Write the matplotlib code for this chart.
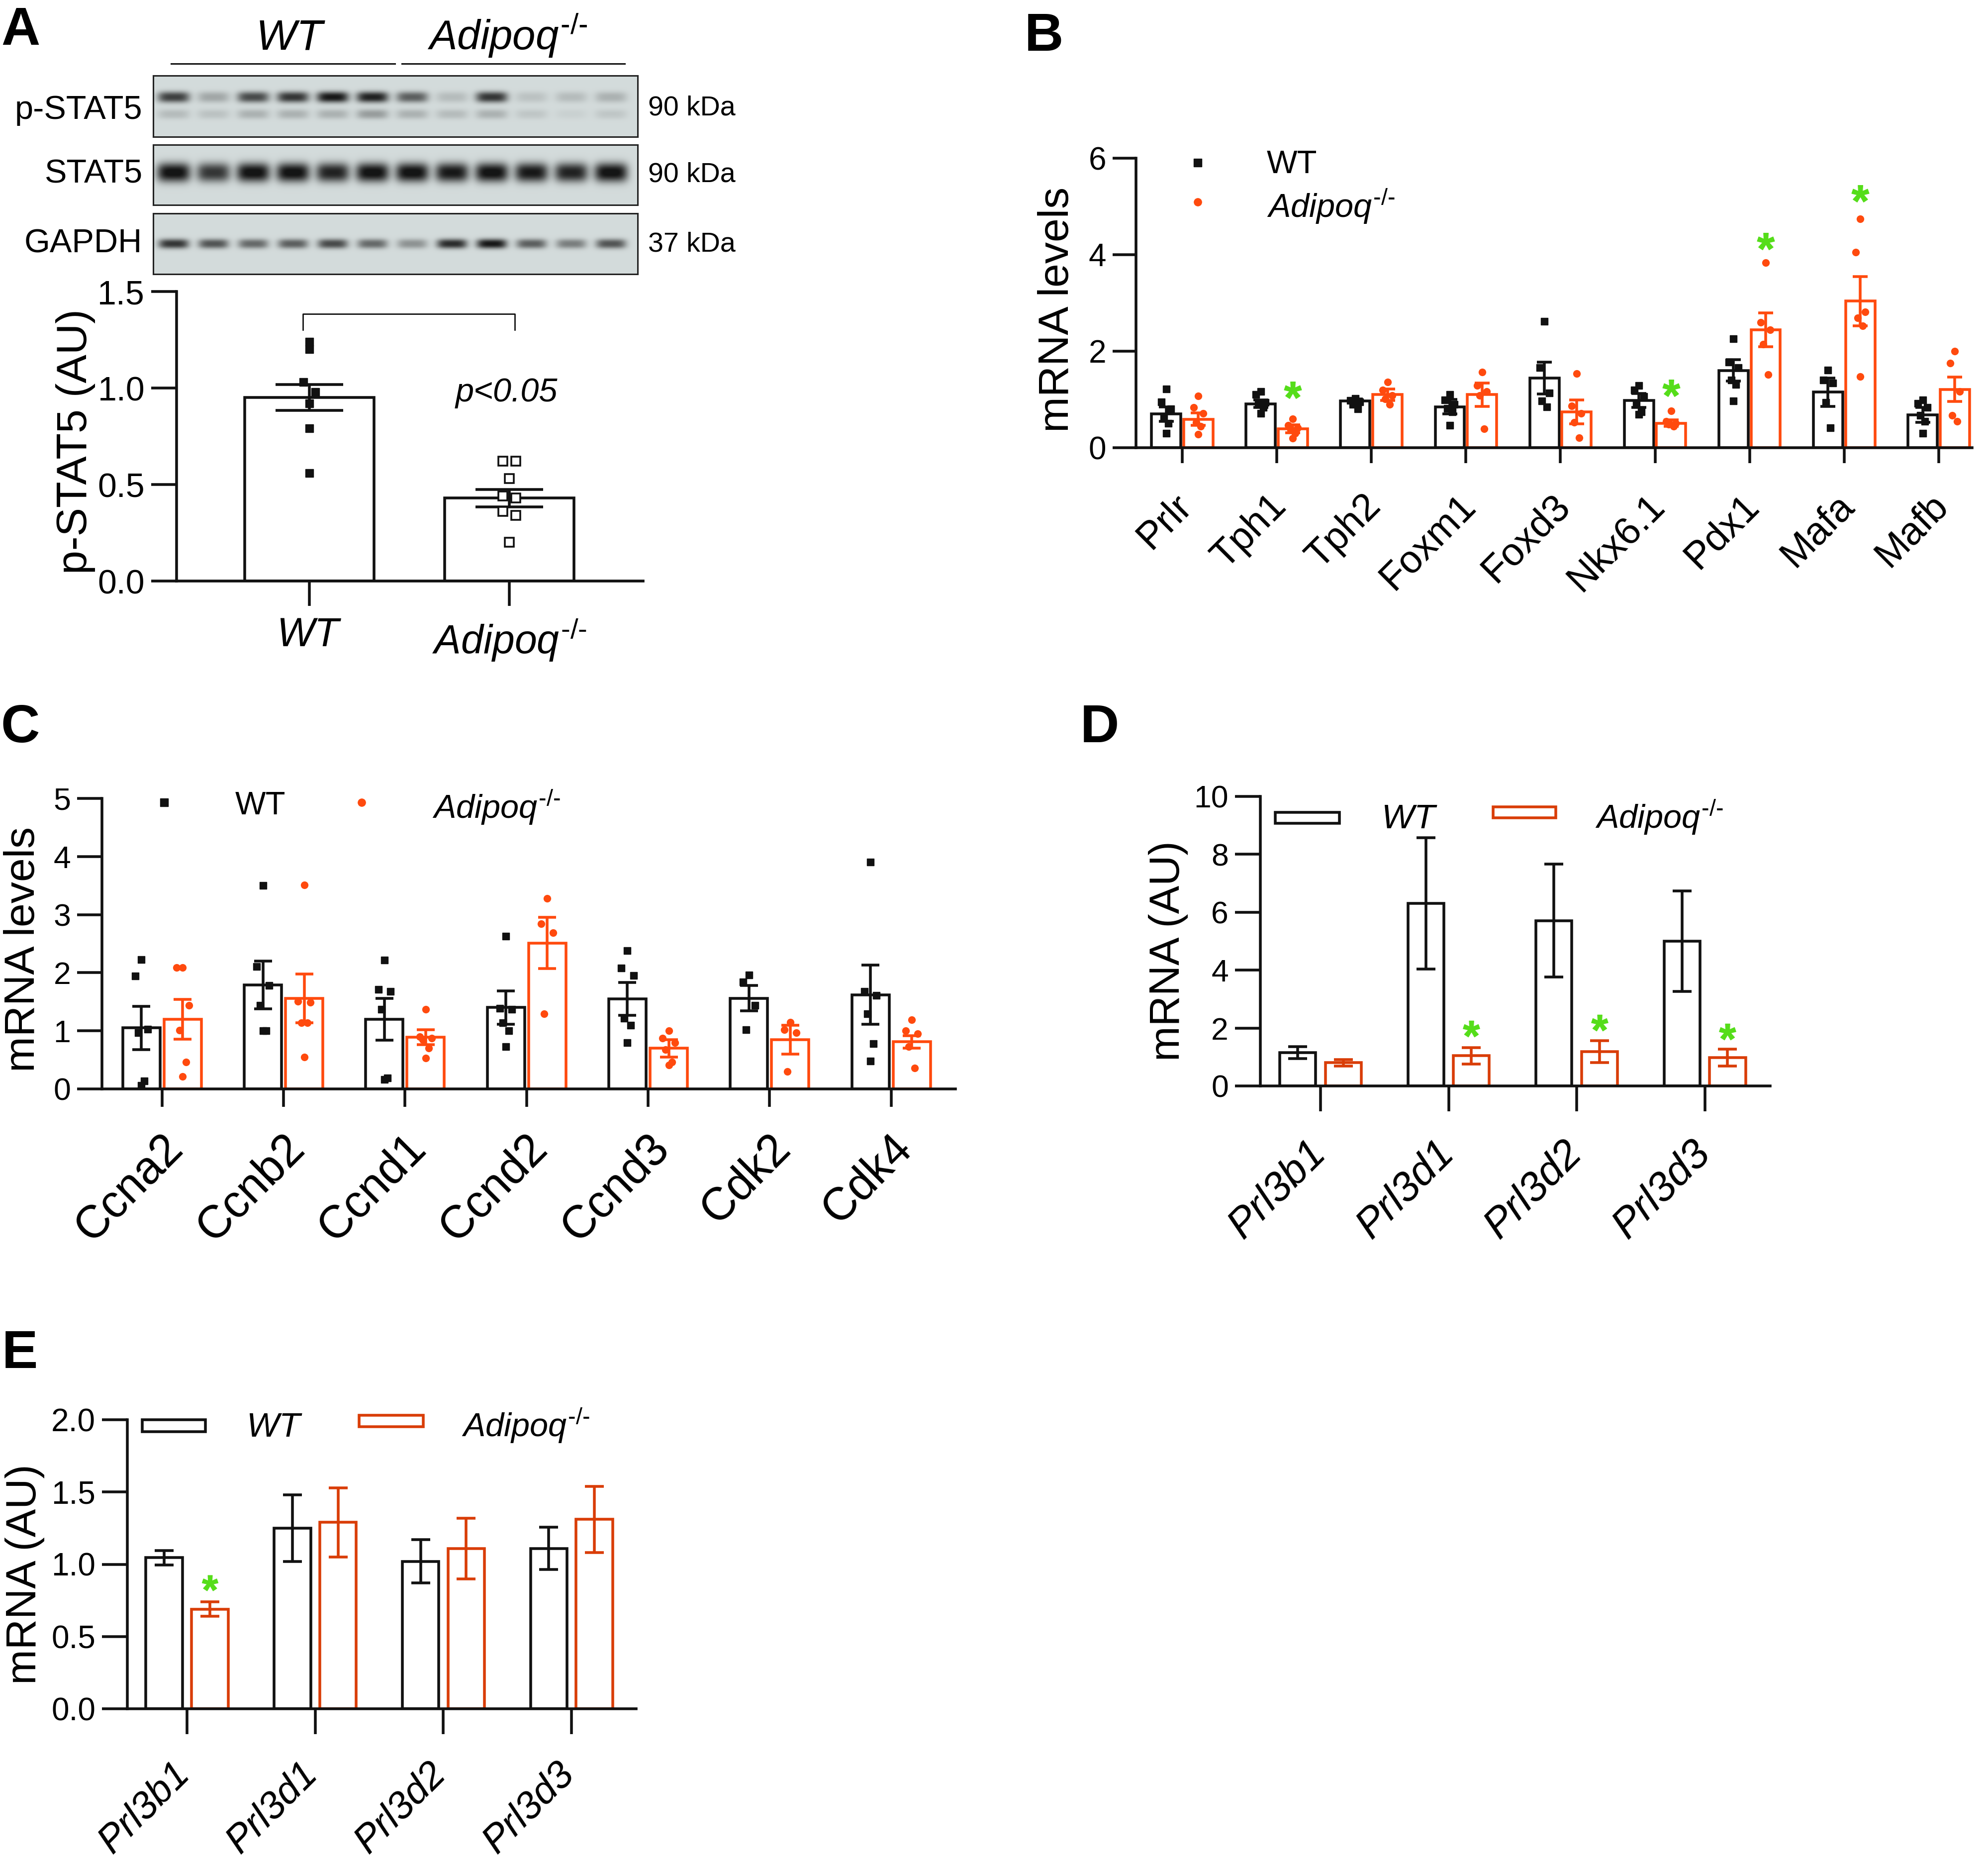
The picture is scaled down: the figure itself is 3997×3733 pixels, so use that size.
import numpy as np
import matplotlib
matplotlib.use('Agg')
import matplotlib.pyplot as plt
from matplotlib.patches import Rectangle
from matplotlib.path import Path
from matplotlib.textpath import TextPath
from matplotlib.font_manager import FontProperties
from matplotlib.markers import MarkerStyle
from matplotlib.transforms import ScaledTranslation

plt.rcParams['font.family'] = 'Liberation Sans'
plt.rcParams['mathtext.fontset'] = 'custom'
plt.rcParams['mathtext.rm'] = 'Liberation Sans'
plt.rcParams['mathtext.it'] = 'Liberation Sans:italic'
plt.rcParams['mathtext.bf'] = 'Liberation Sans:bold'

# ---------------- data ----------------
lanes_pstat5_upper = [0.75, 0.25, 0.70, 0.80, 0.95, 0.90, 0.60, 0.15, 0.80, 0.12, 0.15, 0.20]
lanes_pstat5_lower = [0.15, 0.12, 0.20, 0.20, 0.20, 0.30, 0.20, 0.15, 0.20, 0.10, 0.05, 0.10]
lanes_stat5 = [1.0, 0.80, 1.0, 1.0, 0.90, 1.0, 1.0, 0.95, 1.0, 0.95, 0.90, 1.0]
lanes_gapdh = [0.80, 0.65, 0.55, 0.60, 0.70, 0.55, 0.35, 0.85, 0.95, 0.60, 0.45, 0.65]

ADQ = '$\\mathit{Adipoq}^{\\mathrm{\u2010/\u2010}}$'
a_groups = [r'$\mathit{WT}$', ADQ]
a_mean = [0.951, 0.430]
a_sem = [0.068, 0.045]
a_wt_pts = [1.24, 1.20, 1.03, 0.98, 0.92, 0.79, 0.56]
a_ko_pts = [0.62, 0.62, 0.53, 0.44, 0.43, 0.36, 0.34, 0.20]

b_genes = ['Prlr', 'Tph1', 'Tph2', 'Foxm1', 'Foxd3', 'Nkx6.1', 'Pdx1', 'Mafa', 'Mafb']
b_wt_mean = [0.70, 0.91, 0.97, 0.85, 1.44, 0.98, 1.60, 1.15, 0.68]
b_wt_sem = [0.15, 0.08, 0.04, 0.15, 0.33, 0.14, 0.22, 0.29, 0.15]
b_ko_mean = [0.59, 0.39, 1.10, 1.10, 0.74, 0.51, 2.44, 3.04, 1.21]
b_ko_sem = [0.13, 0.08, 0.12, 0.24, 0.25, 0.07, 0.35, 0.51, 0.25]
b_wt_pts = [[1.22, 0.95, 0.80, 0.62, 0.50, 0.30], [1.17, 1.10, 0.94, 0.90, 0.83, 0.71],
            [1.02, 0.98, 0.95, 0.90, 0.80], [1.10, 0.99, 0.90, 0.81, 0.74, 0.46],
            [2.62, 1.66, 1.13, 0.97, 0.85], [1.29, 1.20, 1.06, 0.90, 0.74, 0.69],
            [2.26, 1.77, 1.66, 1.40, 1.31, 0.97], [1.61, 1.40, 1.34, 0.94, 0.41],
            [0.99, 0.92, 0.83, 0.67, 0.55, 0.30]]
b_ko_pts = [[1.07, 0.83, 0.71, 0.53, 0.44, 0.28], [0.60, 0.46, 0.41, 0.37, 0.30, 0.20],
            [1.36, 1.20, 1.08, 1.01, 0.90], [1.57, 1.29, 1.17, 1.08, 0.39],
            [1.54, 0.87, 0.71, 0.53, 0.21], [0.76, 0.55, 0.51, 0.48, 0.44],
            [3.84, 2.60, 2.44, 2.14, 1.52], [4.74, 4.05, 2.81, 2.69, 2.53, 1.47],
            [2.00, 1.75, 1.17, 0.67, 0.55]]
b_star_idx = [1, 5, 6, 7]
b_star_y = [1.20, 1.24, 4.28, 5.27]

c_genes = ['Ccna2', 'Ccnb2', 'Ccnd1', 'Ccnd2', 'Ccnd3', 'Cdk2', 'Cdk4']
c_wt_mean = [1.05, 1.79, 1.20, 1.40, 1.55, 1.56, 1.62]
c_wt_sem = [0.37, 0.41, 0.36, 0.29, 0.28, 0.22, 0.51]
c_ko_mean = [1.20, 1.56, 0.89, 2.51, 0.70, 0.85, 0.81]
c_ko_sem = [0.34, 0.42, 0.13, 0.44, 0.15, 0.25, 0.11]
c_wt_pts = [[2.23, 1.94, 1.03, 0.97, 0.14, 0.06], [3.50, 2.11, 1.78, 1.44, 1.00, 1.00],
            [2.22, 1.71, 1.68, 1.37, 0.19, 0.16], [2.63, 1.39, 1.37, 1.14, 1.00, 0.73],
            [2.38, 2.08, 1.95, 1.22, 1.10, 0.80], [1.96, 1.84, 1.44, 1.02],
            [3.90, 1.68, 1.61, 1.29, 0.78, 0.48]]
c_ko_pts = [[2.09, 2.09, 1.44, 1.01, 0.46, 0.21], [3.51, 1.51, 1.49, 1.14, 1.14, 0.55],
            [1.37, 0.90, 0.87, 0.85, 0.70, 0.53], [3.28, 2.84, 2.69, 1.29],
            [1.00, 0.87, 0.80, 0.68, 0.46, 0.41], [1.15, 1.02, 0.97, 0.30],
            [1.19, 1.00, 0.95, 0.73, 0.36]]

d_genes = ['Prl3b1', 'Prl3d1', 'Prl3d2', 'Prl3d3']
d_wt_mean = [1.15, 6.30, 5.71, 5.00]
d_wt_sem = [0.21, 2.27, 1.95, 1.74]
d_ko_mean = [0.80, 1.04, 1.19, 0.98]
d_ko_sem = [0.11, 0.29, 0.38, 0.30]
d_star_y = [None, 1.98, 2.19, 1.88]

e_genes = ['Prl3b1', 'Prl3d1', 'Prl3d2', 'Prl3d3']
e_wt_mean = [1.045, 1.25, 1.02, 1.11]
e_wt_sem = [0.05, 0.23, 0.15, 0.145]
e_ko_mean = [0.69, 1.29, 1.11, 1.31]
e_ko_sem = [0.05, 0.24, 0.21, 0.23]
e_star_y = [0.87, None, None, None]

# ---------------- style ----------------
W, H = 3998, 3733
BLACK = '#111111'
ORANGE = '#FF4A0E'
ORANGE2 = '#D93D07'
GREEN = '#55DD1A'
LW = 4

fig = plt.figure(figsize=(W / 100, H / 100), dpi=100)


def px_axes(x0, y0, x1, y1):
    return fig.add_axes([x0 / W, 1 - y1 / H, (x1 - x0) / W, (y1 - y0) / H])


# asterisk marker from the font glyph, centred
_tp = TextPath((0, 0), '*', prop=FontProperties(family='Liberation Sans', weight='bold'))
_v = _tp.vertices.copy()
_m = _tp.codes != Path.CLOSEPOLY
_c = (_v[_m].min(axis=0) + _v[_m].max(axis=0)) / 2
_v = _v - _c
_v[~_m] = 0
STAR = MarkerStyle(Path(_v, _tp.codes))


def spread(n, w):
    pat = [0, -1, 1, -0.5, 0.5, 0, -1, 1]
    return np.array(pat[:n]) * w


def base_axes(ax, xlim, ylim, yticks, yticklabels, ylen, xlen, yfs):
    ax.set_xlim(*xlim)
    ax.set_ylim(*ylim)
    for s in ['top', 'right']:
        ax.spines[s].set_visible(False)
    for s in ['left', 'bottom']:
        ax.spines[s].set_linewidth(LW)
        ax.spines[s].set_color(BLACK)
    ax.set_yticks(yticks)
    ax.set_yticklabels(yticklabels)
    ax.tick_params(axis='y', length=ylen, width=LW, labelsize=yfs, pad=9, color=BLACK)
    ax.tick_params(axis='x', length=xlen, width=LW, color=BLACK)
    ax.patch.set_alpha(0)


def rot_labels(ax, labels, dx, dy, fs, italic):
    tr = ax.get_xaxis_transform() + ScaledTranslation(dx / 100, -dy / 100, fig.dpi_scale_trans)
    for i, t in enumerate(labels):
        ax.text(i, 0, t, transform=tr, rotation=45, ha='right', va='top',
                rotation_mode='anchor', fontsize=fs,
                fontstyle='italic' if italic else 'normal')


def grouped(ax, wt_mean, wt_sem, ko_mean, ko_sem, width, off, ko_col, cap):
    x = np.arange(len(wt_mean))
    ax.bar(x - off, wt_mean, width, facecolor='white', edgecolor=BLACK, lw=LW, zorder=2)
    ax.bar(x + off, ko_mean, width, facecolor='white', edgecolor=ko_col, lw=LW, zorder=2)
    ax.errorbar(x - off, wt_mean, yerr=wt_sem, fmt='none', ecolor=BLACK, elinewidth=LW,
                capsize=cap, capthick=LW, zorder=3)
    ax.errorbar(x + off, ko_mean, yerr=ko_sem, fmt='none', ecolor=ko_col, elinewidth=LW,
                capsize=cap, capthick=LW, zorder=3)
    ax.set_xticks(x)
    ax.set_xticklabels([])
    return x


def scatter_pts(ax, x, pts, off, w, marker, color, ms):
    for i, p in enumerate(pts):
        ax.plot(x[i] + off + spread(len(p), w), p, linestyle='none', marker=marker,
                color=color, ms=ms, zorder=4)


# ---------------- overlay for free text ----------------
ov = fig.add_axes([0, 0, 1, 1], zorder=10)
ov.set_xlim(0, W)
ov.set_ylim(H, 0)
ov.axis('off')
ov.patch.set_alpha(0)

# panel letters
for letter, x, y in [('A', 2, 90), ('B', 2060, 102), ('C', 2, 1492), ('D', 2172, 1492), ('E', 4, 2750)]:
    ov.text(x, y, letter, fontsize=78, fontweight='bold', ha='left', va='baseline')

# ---------------- Panel A: western blot ----------------
def blot(box, bands):
    ax = px_axes(*box)
    xs = np.linspace(-0.51, 11.66, 700)
    ys = np.linspace(0, 1, 140)
    X, Y = np.meshgrid(xs, ys)
    dark = np.zeros_like(X)
    for vals, yc, hy, hx in bands:
        for i, v in enumerate(vals):
            dark += v * np.exp(-np.abs((X - i) / hx) ** 4 - np.abs((Y - yc) / hy) ** 2.4)
    dark = np.clip(dark, 0, 0.96)
    bg = np.array([0.83, 0.86, 0.86])
    img = bg[None, None, :] * (1 - dark[..., None]) + 0.05 * dark[..., None]
    ax.imshow(img, extent=(-0.51, 11.66, 1, 0), aspect='auto', interpolation='bilinear')
    ax.set_xticks([])
    ax.set_yticks([])
    for s in ax.spines.values():
        s.set_linewidth(2.2)
        s.set_color('#222222')
    return ax


blot((308, 152, 1282, 275), [(lanes_pstat5_upper, 0.35, 0.09, 0.40),
                              (lanes_pstat5_lower, 0.63, 0.08, 0.40)])
blot((308, 291, 1282, 412), [(lanes_stat5, 0.46, 0.16, 0.42)])
blot((308, 429, 1282, 551), [(lanes_gapdh, 0.50, 0.08, 0.38)])

for txt, y in [('p-STAT5', 222), ('STAT5', 351), ('GAPDH', 490)]:
    ov.text(286, y, txt, fontsize=48, ha='right', va='center')
for txt, y in [('90 kDa', 217), ('90 kDa', 352), ('37 kDa', 492)]:
    ov.text(1303, y, txt, fontsize=40, ha='left', va='center')
ov.text(584, 100, r'$\mathit{WT}$', fontsize=62, ha='center', va='baseline')
ov.text(1020, 100, ADQ, fontsize=60, ha='center', va='baseline')
ov.plot([344, 794], [128, 128], color=BLACK, lw=2.2)
ov.plot([808, 1256], [128, 128], color=BLACK, lw=2.2)

# ---------------- Panel A: bar chart ----------------
axA = px_axes(355, 586, 1293, 1168)
base_axes(axA, (-0.664, 1.669), (0, 1.5), [0, 0.5, 1.0, 1.5], ['0.0', '0.5', '1.0', '1.5'], 37, 36, 49)
xa = np.arange(2)
axA.bar(xa, a_mean, 0.647, facecolor='white', edgecolor=BLACK, lw=LW, zorder=2)
axA.errorbar(xa, a_mean, yerr=a_sem, fmt='none', ecolor=BLACK, elinewidth=LW, capsize=49,
             capthick=LW, zorder=3)
axA.plot(xa[0] + np.array([0, 0, -0.03, 0.03, 0, 0, 0]), a_wt_pts, 's', color=BLACK, ms=12,
         linestyle='none', zorder=4)
axA.plot(xa[1] + np.array([-0.033, 0.033, 0, -0.033, 0.033, -0.033, 0.033, 0]), a_ko_pts, 's',
         mfc='white', mec=BLACK, mew=2.6, ms=13, linestyle='none', zorder=4)
axA.set_xticks(xa)
axA.set_xticklabels(a_groups, fontsize=58)
axA.tick_params(axis='x', pad=16)
axA.plot([-0.032, -0.032, 1.027, 1.027], [1.302, 1.384, 1.384, 1.302], color=BLACK, lw=2,
         clip_on=False)
axA.text(0.985, 0.974, 'p<0.05', fontstyle='italic', fontsize=48, ha='center', va='center')
ov.text(152, 888, 'p-STAT5 (AU)', rotation=90, fontsize=62, ha='center', va='center')

# ---------------- Panel B ----------------
axB = px_axes(2284, 318, 3965, 900)
base_axes(axB, (-0.489, 8.353), (0, 6), [0, 2, 4, 6], ['0', '2', '4', '6'], 34, 22, 46)
xb = grouped(axB, b_wt_mean, b_wt_sem, b_ko_mean, b_ko_sem, 0.31, 0.17, ORANGE, 11)
scatter_pts(axB, xb, b_wt_pts, -0.17, 0.05, 's', BLACK, 10)
scatter_pts(axB, xb, b_ko_pts, 0.17, 0.05, 'o', ORANGE, 10)
axB.plot(xb[b_star_idx] + 0.17, b_star_y, linestyle='none', marker=STAR, color=GREEN, ms=25,
         zorder=5)
rot_labels(axB, b_genes, -18, 80, 56, False)
ov.text(2126, 622, 'mRNA levels', rotation=90, fontsize=62, ha='center', va='center')
ov.plot(2408, 327, 's', color=BLACK, ms=11)
ov.plot(2408, 406, 'o', color=ORANGE, ms=11)
ov.text(2547, 348, 'WT', fontsize=47, ha='left', va='baseline')
ov.text(2547, 437, ADQ, fontsize=48, ha='left', va='baseline')

# ---------------- Panel C ----------------
axC = px_axes(205, 1605, 1921, 2189)
base_axes(axC, (-0.495, 6.53), (0, 5), [0, 1, 2, 3, 4, 5], ['0', '1', '2', '3', '4', '5'], 36, 26, 45)
xc = grouped(axC, c_wt_mean, c_wt_sem, c_ko_mean, c_ko_sem, 0.307, 0.17, ORANGE, 13)
scatter_pts(axC, xc, c_wt_pts, -0.17, 0.05, 's', BLACK, 10)
scatter_pts(axC, xc, c_ko_pts, 0.17, 0.05, 'o', ORANGE, 10)
rot_labels(axC, c_genes, -2, 76, 66, False)
ov.text(47, 1908, 'mRNA levels', rotation=90, fontsize=62, ha='center', va='center')
ov.plot(330, 1613, 's', color=BLACK, ms=11)
ov.plot(727, 1613, 'o', color=ORANGE, ms=11)
ov.text(473, 1637, 'WT', fontsize=47, ha='left', va='baseline')
ov.text(869, 1645, ADQ, fontsize=48, ha='left', va='baseline')

# ---------------- Panel D ----------------
axD = px_axes(2534, 1601, 3559, 2183)
base_axes(axD, (-0.47, 3.51), (0, 10), [0, 2, 4, 6, 8, 10], ['0', '2', '4', '6', '8', '10'], 37, 37, 45)
xd = grouped(axD, d_wt_mean, d_wt_sem, d_ko_mean, d_ko_sem, 0.28, 0.178, ORANGE2, 14)
for i, s in enumerate(d_star_y):
    if s is not None:
        axD.plot(xd[i] + 0.178, s, marker=STAR, color=GREEN, ms=24, zorder=5)
rot_labels(axD, d_genes, -29, 96, 60, True)
ov.text(2349, 1912, 'mRNA (AU)', rotation=90, fontsize=61, ha='center', va='center')
ov.add_patch(Rectangle((2564, 1633), 129, 22, facecolor='white', edgecolor=BLACK, lw=LW))
ov.add_patch(Rectangle((3002, 1622), 126, 22, facecolor='white', edgecolor=ORANGE2, lw=LW))
ov.text(2777, 1665, r'$\mathit{WT}$', fontsize=50, ha='left', va='baseline')
ov.text(3207, 1665, ADQ, fontsize=48, ha='left', va='baseline')

# ---------------- Panel E ----------------
axE = px_axes(256, 2854, 1279, 3435)
base_axes(axE, (-0.466, 3.504), (0, 2.0), [0, 0.5, 1.0, 1.5, 2.0],
          ['0.0', '0.5', '1.0', '1.5', '2.0'], 37, 37, 46)
xe = grouped(axE, e_wt_mean, e_wt_sem, e_ko_mean, e_ko_sem, 0.285, 0.178, ORANGE2, 14)
for i, s in enumerate(e_star_y):
    if s is not None:
        axE.plot(xe[i] + 0.178, s, marker=STAR, color=GREEN, ms=23, zorder=5)
rot_labels(axE, e_genes, -32, 94, 56, True)
ov.text(50, 3165, 'mRNA (AU)', rotation=90, fontsize=61, ha='center', va='center')
ov.add_patch(Rectangle((286, 2854), 127, 24, facecolor='white', edgecolor=BLACK, lw=LW))
ov.add_patch(Rectangle((722, 2845), 129, 23, facecolor='white', edgecolor=ORANGE2, lw=LW))
ov.text(495, 2888, r'$\mathit{WT}$', fontsize=50, ha='left', va='baseline')
ov.text(928, 2888, ADQ, fontsize=48, ha='left', va='baseline')

fig.savefig('out.png', dpi=100, facecolor='white')
